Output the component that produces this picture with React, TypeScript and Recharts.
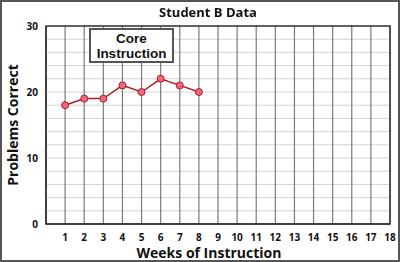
import React from 'react';
import {
  LineChart,
  Line,
  XAxis,
  YAxis,
  CartesianGrid,
  ReferenceArea,
  Label,
} from 'recharts';

// weekly scores for student B
const weeks = [1, 2, 3, 4, 5, 6, 7, 8];
const correct = [18, 19, 19, 21, 20, 22, 21, 20];

const weekTicks = [1, 2, 3, 4, 5, 6, 7, 8, 9, 10, 11, 12, 13, 14, 15, 16, 17, 18];
const scoreTicks = [0, 10, 20, 30];
const minorRows = [0, 2, 4, 6, 8, 10, 12, 14, 16, 18, 20, 22, 24, 26, 28, 30];

const FONT = "'Open Sans', 'DejaVu Sans', sans-serif";
const BOX_FONT = "'Liberation Sans', Arial, sans-serif";

const data = weeks.map((w, i) => ({ week: w, score: correct[i] }));

export default function App() {
  return (
    <div
      style={{
        position: 'fixed',
        left: 0,
        top: 0,
        width: 400,
        height: 262,
        background: '#fff',
        fontFamily: FONT,
      }}
    >
      {/* outer frame */}
      <div
        style={{
          position: 'absolute',
          left: 0,
          top: 0,
          width: 396,
          height: 258,
          border: '2px solid #555',
        }}
      />

      <LineChart
        width={400}
        height={262}
        data={data}
        margin={{ top: 26, right: 10, bottom: 0, left: 0 }}
      >
        <CartesianGrid
          vertical={false}
          horizontalValues={minorRows}
          stroke="#d4d4d4"
          strokeWidth={1}
        />
        <CartesianGrid
          horizontal={false}
          verticalValues={weekTicks}
          stroke="#7a7a7a"
          strokeWidth={1.2}
        />
        <XAxis
          dataKey="week"
          type="number"
          domain={[0, 18]}
          ticks={weekTicks}
          interval={0}
          tickLine={false}
          tickSize={0}
          tickMargin={10}
          axisLine={{ stroke: '#333', strokeWidth: 1.5 }}
          height={38}
          tick={{ fill: '#111', fontSize: 10, fontWeight: 700, fontFamily: FONT }}
        >
          <Label
            value="Weeks of Instruction"
            position="insideBottom"
            offset={4}
            dx={-9}
            style={{ fill: '#111', fontSize: 14, fontWeight: 700, fontFamily: FONT }}
          />
        </XAxis>
        <YAxis
          type="number"
          domain={[0, 30]}
          ticks={scoreTicks}
          interval={0}
          tickLine={false}
          tickSize={0}
          tickMargin={8}
          width={46}
          axisLine={{ stroke: '#333', strokeWidth: 1.5 }}
          tick={{ fill: '#111', fontSize: 10, fontWeight: 700, fontFamily: FONT }}
        >
          <Label
            value="Problems Correct"
            angle={-90}
            position="insideLeft"
            offset={13}
            style={{
              fill: '#111',
              fontSize: 14,
              fontWeight: 700,
              fontFamily: FONT,
              textAnchor: 'middle',
            }}
          />
        </YAxis>
        <ReferenceArea
          x1={0}
          x2={18}
          y1={0}
          y2={30}
          fill="none"
          stroke="#333"
          strokeWidth={1.5}
        />
        <Line
          dataKey="score"
          stroke="#a81c2a"
          strokeWidth={1.5}
          dot={{ r: 3.5, fill: '#f2667a', stroke: '#a81c2a', strokeWidth: 1 }}
          isAnimationActive={false}
        />
      </LineChart>

      {/* title */}
      <div
        style={{
          position: 'absolute',
          left: 0,
          width: 416,
          top: 3,
          textAlign: 'center',
          fontSize: 13,
          fontWeight: 700,
          color: '#111',
        }}
      >
        Student B Data
      </div>

      {/* phase label */}
      <div
        style={{
          position: 'absolute',
          left: 89,
          top: 28,
          width: 81,
          height: 30,
          border: '2px solid #555',
          background: '#fff',
          textAlign: 'center',
          fontFamily: BOX_FONT,
          fontSize: 13.5,
          fontWeight: 700,
          lineHeight: '15px',
          paddingTop: 1,
          boxSizing: 'content-box',
          color: '#111',
        }}
      >
        <div>Core</div>
        <div>Instruction</div>
      </div>
    </div>
  );
}
